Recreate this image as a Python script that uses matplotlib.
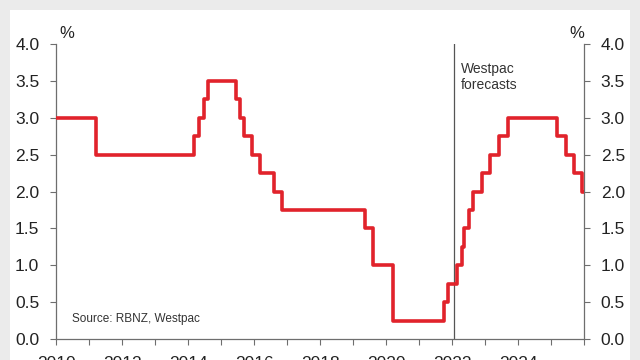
import matplotlib.pyplot as plt
from matplotlib.patches import Rectangle
from matplotlib.ticker import MultipleLocator

plt.rcParams['font.family'] = ['Liberation Sans', 'DejaVu Sans']

# OCR steps (decimal years, rate in %), Westpac forecasts from 2022
dates = [2010.0, 2011.2, 2014.19, 2014.33, 2014.47, 2014.6, 2015.45, 2015.58,
         2015.7, 2015.94, 2016.19, 2016.6, 2016.86, 2019.36, 2019.6, 2020.2,
         2021.76, 2021.89, 2022.14, 2022.29, 2022.37, 2022.52, 2022.63, 2022.9,
         2023.15, 2023.42, 2023.69, 2025.17, 2025.44, 2025.7, 2025.94, 2026.0]
rates = [3.0, 2.5, 2.75, 3.0, 3.25, 3.5, 3.25, 3.0,
         2.75, 2.5, 2.25, 2.0, 1.75, 1.5, 1.0, 0.25,
         0.5, 0.75, 1.0, 1.25, 1.5, 1.75, 2.0, 2.25,
         2.5, 2.75, 3.0, 2.75, 2.5, 2.25, 2.0, 2.0]
forecast_start = 2022.05
year_labels = [2010, 2012, 2014, 2016, 2018, 2020, 2022, 2024]

fig = plt.figure(figsize=(6.4, 3.6), dpi=100, facecolor='#ebebeb')
fig.patches.append(Rectangle((10 / 640, 0), 620 / 640, 1 - 10 / 360,
                             transform=fig.transFigure, facecolor='white',
                             edgecolor='none', zorder=-1))

ax = fig.add_axes([56 / 640, 21 / 360, 528 / 640, 295 / 360])
ax.set_facecolor('none')

ax.step(dates, rates, where='post', color='#e1232b', lw=2.6, zorder=3)
ax.axvline(forecast_start, color='#555555', lw=0.9, zorder=2)

ax.set_xlim(2010, 2026)
ax.set_ylim(0, 4)
ax.set_xticks(year_labels)
ax.set_xticklabels([str(y) for y in year_labels])
ax.xaxis.set_minor_locator(MultipleLocator(1))
ax.yaxis.set_major_locator(MultipleLocator(0.5))
ax.yaxis.set_major_formatter(plt.FuncFormatter(lambda v, _: f'{v:.1f}'))

ax.spines['top'].set_visible(False)
for side in ['left', 'right', 'bottom']:
    ax.spines[side].set_color('#6e6e6e')
    ax.spines[side].set_linewidth(0.9)

ax.tick_params(axis='y', which='major', left=True, right=True,
               labelleft=True, labelright=True, length=4, width=0.8,
               color='#6e6e6e', pad=8, labelsize=12.5, labelcolor='#222222')
ax.tick_params(axis='x', which='major', length=4, width=0.8, color='#6e6e6e',
               pad=8, labelsize=12.5, labelcolor='#222222')
ax.tick_params(axis='x', which='minor', length=4, width=0.8, color='#6e6e6e')

fig.text(67 / 640, 1 - 33 / 360, '%', ha='center', va='center',
         fontsize=12, color='#222222')
fig.text(577 / 640, 1 - 33 / 360, '%', ha='center', va='center',
         fontsize=12, color='#222222')

ax.text(2022.28, 3.55, 'Westpac\nforecasts', ha='left', va='center',
        fontsize=10, color='#333333', linespacing=1.15)
ax.text(2010.5, 0.27, 'Source: RBNZ, Westpac', ha='left', va='center',
        fontsize=8.5, color='#333333')

fig.savefig('out.png', dpi=100, facecolor=fig.get_facecolor())
